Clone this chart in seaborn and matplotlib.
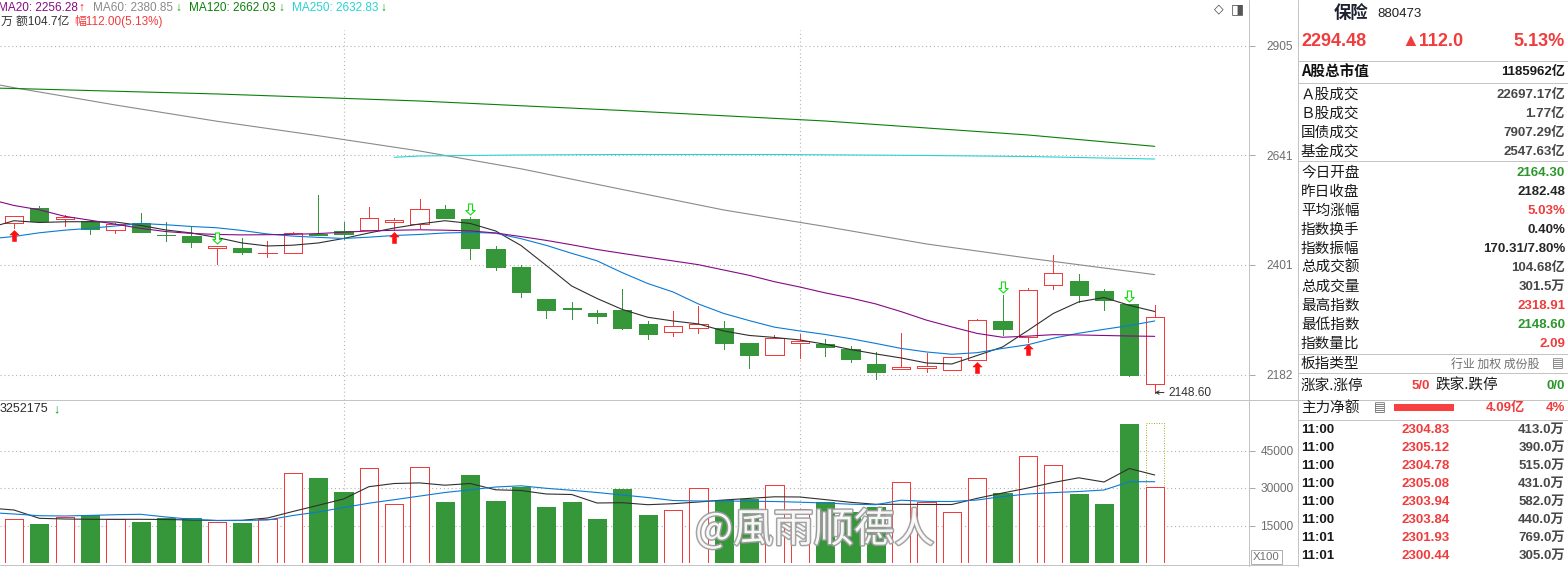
import numpy as np
import seaborn as sns
import matplotlib
matplotlib.use("Agg")
import matplotlib.pyplot as plt
import matplotlib.patheffects as pathEffects
from matplotlib.lines import Line2D
from matplotlib.patches import Rectangle
from matplotlib.path import Path

# ---------------- daily candles (index 0 = leftmost visible day) ----------------
openPrices = [
    2490.9, 2523.0, 2498.3, 2494.6, 2474.5, 2489.6, 2465.0, 2462.2, 2437.3, 2436.7,
    2425.4, 2425.4, 2466.5, 2473.0, 2474.5, 2493.1, 2487.4, 2520.8, 2498.9, 2434.6,
    2396.1, 2330.9, 2312.7, 2302.1, 2308.7, 2280.8, 2264.4, 2272.2, 2272.8, 2242.7,
    2219.4, 2242.7, 2241.4, 2231.7, 2202.7, 2192.6, 2195.6, 2190.7, 2209.8, 2286.7,
    2255.7, 2358.8, 2367.7, 2347.2, 2320.8, 2164.30,
]
highPrices = [
    2505.5, 2527.4, 2507.7, 2496.8, 2490.9, 2512.0, 2491.8, 2481.6, 2440.9, 2457.3,
    2451.6, 2471.5, 2551.7, 2491.8, 2524.5, 2500.5, 2542.8, 2529.6, 2503.9, 2440.9,
    2400.9, 2330.9, 2324.2, 2308.7, 2351.2, 2286.7, 2306.7, 2317.4, 2286.7, 2242.7,
    2259.1, 2261.0, 2251.2, 2236.9, 2225.2, 2263.0, 2223.3, 2216.2, 2290.7, 2339.0,
    2352.7, 2421.8, 2382.1, 2351.9, 2320.8, 2318.91,
]
lowPrices = [
    2480.1, 2495.2, 2484.4, 2466.5, 2469.3, 2470.2, 2452.2, 2439.4, 2402.9, 2424.6,
    2417.6, 2425.4, 2463.3, 2455.8, 2474.5, 2475.1, 2480.1, 2501.8, 2414.1, 2390.4,
    2335.5, 2293.3, 2291.3, 2283.3, 2271.4, 2251.8, 2257.7, 2263.6, 2232.3, 2195.0,
    2219.4, 2214.8, 2218.7, 2207.1, 2174.1, 2192.6, 2186.8, 2190.7, 2209.8, 2259.6,
    2245.9, 2351.9, 2324.2, 2308.7, 2180.5, 2148.60,
]
closePrices = [
    2505.5, 2495.2, 2502.6, 2477.9, 2487.4, 2470.2, 2463.8, 2450.1, 2440.9, 2428.8,
    2426.7, 2468.7, 2464.4, 2465.9, 2500.5, 2496.8, 2520.1, 2501.8, 2437.3, 2397.3,
    2345.7, 2309.3, 2311.5, 2297.3, 2273.4, 2261.6, 2276.2, 2281.4, 2243.9, 2220.6,
    2253.1, 2246.6, 2235.0, 2211.7, 2186.8, 2196.4, 2198.9, 2216.2, 2288.7, 2271.4,
    2348.6, 2383.6, 2339.6, 2328.3, 2182.48, 2294.48,
]
volumes = [
    17480, 15600, 18530, 19200, 17480, 16400, 17870, 17870, 16270, 16000,
    17480, 35870, 34000, 28400, 37870, 23470, 38270, 24400, 35200, 24800,
    30530, 22400, 24400, 17600, 29600, 19200, 21200, 29870, 25200, 25600,
    31070, 21470, 24530, 20530, 22400, 32270, 24530, 20270, 33870, 28000,
    42670, 39070, 27600, 23600, 55600, 30270,
]
volumeForecast = 55900

# ---------------- moving averages (index -1 is the half hidden day on the left) ----------------
maIndex = list(range(-1, 46))
ma5Values = [
    2479.4, 2495.2, 2491.3, 2492.9, 2493.1, 2492.4, 2484.9, 2475.1, 2468.7, 2459.0,
    2447.3, 2440.9, 2442.6, 2447.3, 2456.9, 2468.7, 2479.4, 2488.1, 2495.2, 2489.2,
    2473.0, 2442.0, 2399.8, 2357.4, 2331.9, 2309.7, 2294.1, 2286.7, 2280.8, 2266.9,
    2258.1, 2254.1, 2249.2, 2240.8, 2230.7, 2222.0, 2214.2, 2204.6, 2202.7, 2219.1,
    2235.6, 2267.9, 2301.7, 2324.9, 2333.9, 2318.0, 2305.7,
]
ma10Values = [
    2455.8, 2461.2, 2469.1, 2474.7, 2478.8, 2483.8, 2489.2, 2486.4, 2482.7, 2479.9,
    2474.1, 2466.5, 2462.0, 2459.3, 2456.9, 2459.7, 2463.3, 2465.5, 2468.7, 2470.0,
    2468.3, 2456.5, 2442.2, 2425.4, 2409.6, 2384.8, 2362.5, 2345.1, 2320.8, 2301.7,
    2287.5, 2274.4, 2266.9, 2260.0, 2251.8, 2242.4, 2232.7, 2225.8, 2221.4, 2224.5,
    2232.7, 2239.9, 2252.6, 2262.4, 2270.1, 2277.6, 2286.7,
]
ma20Values = [
    2542.8, 2528.5, 2519.0, 2504.8, 2496.3, 2487.7, 2478.6, 2471.7, 2467.8, 2465.5,
    2464.6, 2465.0, 2465.7, 2467.4, 2470.4, 2473.0, 2474.5, 2475.6, 2474.7, 2473.2,
    2468.7, 2461.0, 2452.8, 2443.5, 2433.5, 2425.2, 2417.2, 2409.4, 2401.5, 2390.4,
    2379.4, 2366.2, 2355.3, 2343.3, 2332.9, 2320.8, 2305.3, 2288.3, 2274.8, 2262.0,
    2254.5, 2256.7, 2259.6, 2259.0, 2258.0, 2257.0, 2256.3,
]
ma60Index = [-1, 0, 4, 8, 12, 16, 20, 24, 28, 32, 36, 40, 45]
ma60Values = [2813.0, 2801.5, 2759.6, 2720.9, 2686.8, 2651.3, 2610.5, 2563.9, 2518.6, 2482.7, 2445.2, 2415.3, 2380.85]
ma120Index = [-1, 0, 8, 16, 24, 32, 40, 45]
ma120Values = [2800.8, 2799.5, 2786.2, 2769.2, 2746.4, 2721.4, 2688.5, 2662.03]
ma250Index = [15, 16, 20, 24, 30, 36, 40, 45]
ma250Values = [2636.8, 2639.8, 2642.1, 2643.2, 2643.2, 2641.0, 2638.6, 2632.83]

volMa5Values = [
    22000, 21200, 17880, 17600, 17480, 17480, 17480, 17400, 17200, 17000,
    17080, 18000, 20600, 23080, 25600, 30520, 31800, 32040, 31120, 31800,
    29280, 29000, 27600, 27400, 24000, 24120, 23320, 23720, 24400, 25200,
    25840, 26480, 26400, 25360, 24280, 23480, 23480, 23400, 23400, 25880,
    28000, 30000, 32200, 34080, 32400, 37800, 35200,
]
volMa10Values = [
    20200, 19600, 18920, 18800, 19040, 19320, 19480, 18400, 17480, 17000,
    17000, 17200, 19000, 20400, 22200, 23920, 25320, 26760, 28200, 29280,
    30400, 30880, 29880, 29080, 28200, 27200, 26200, 25000, 24800, 24800,
    24680, 24600, 24320, 24000, 23520, 23320, 25120, 24640, 24600, 25200,
    26600, 27600, 28160, 28600, 29200, 32520, 32520,
]

buySignalIndex = [0, 15, 38, 40]
sellSignalIndex = [8, 18, 39, 44]
monthBreakIndex = [13, 31]
priceTicks = [2182, 2401, 2641, 2905]
volumeTicks = [15000, 30000, 45000]
lowestDayIndex = 45
lowestLabel = "2148.60"

maLegendTexts = ["MA20: 2256.28", "MA60: 2380.85", "MA120: 2662.03", "MA250: 2632.83"]
maLegendArrows = ["↑", "↓", "↓", "↓"]
volumeHeader = "3252175"

# ---------------- quote panel ----------------
stockName = "保险"
stockCode = "880473"
lastPrice = "2294.48"
priceChange = "▲112.0"
pctChange = "5.13%"
marketCapLabel = "A股总市值"
marketCapValue = "1185962亿"
marketRowLabels = ["Ａ股成交", "Ｂ股成交", "国债成交", "基金成交"]
marketRowValues = ["22697.17亿", "1.77亿", "7907.29亿", "2547.63亿"]
indexRowLabels = ["今日开盘", "昨日收盘", "平均涨幅", "指数换手", "指数振幅",
                  "总成交额", "总成交量", "最高指数", "最低指数", "指数量比"]
indexRowValues = ["2164.30", "2182.48", "5.03%", "0.40%", "170.31/7.80%",
                  "104.68亿", "301.5万", "2318.91", "2148.60", "2.09"]
indexRowTones = ["green", "dark", "red", "dark", "dark", "gray", "gray", "red", "green", "red"]
tickTimes = ["11:00", "11:00", "11:00", "11:00", "11:00", "11:00", "11:01", "11:01"]
tickPrices = ["2304.83", "2305.12", "2304.78", "2305.08", "2303.94", "2303.84", "2301.93", "2300.44"]
tickVolumes = ["413.0万", "390.0万", "515.0万", "431.0万", "582.0万", "440.0万", "769.0万", "305.0万"]

FIG_W, FIG_H, DPI = 1568, 567, 100
RED = "#f03c3c"
GREEN = "#36963a"
SIGNAL_RED = "#ff1010"
SIGNAL_GREEN = "#10e010"
TONES = {"green": "#2c962c", "dark": "#262626", "red": "#f03c3c", "gray": "#484848"}
LINE_GRAY = "#c4c4c4"
TEXT_FAMILY = ["Liberation Sans", "Noto Sans CJK SC", "DejaVu Sans"]
CJK_FAMILY = ["Noto Sans CJK SC", "DejaVu Sans"]
LW = 0.72          # one pixel at 100 dpi
BODY_W = 0.72


def fx(px) :
    return px / FIG_W


def fy(py) :
    return 1 - py / FIG_H


class QuoteChart :

    def __init__(self) :
        sns.set_theme(style = "white")
        plt.rcParams["font.family"] = TEXT_FAMILY
        plt.rcParams["axes.unicode_minus"] = False
        self.fig = plt.figure(figsize = (FIG_W / DPI, FIG_H / DPI), dpi = DPI, facecolor = "white")
        self.priceAx = self.fig.add_axes([0, fy(400), fx(1249), fy(30) - fy(400)])
        self.volAx = self.fig.add_axes([0, fy(563), fx(1249), fy(400) - fy(563)])
        self.opens = np.array(openPrices)
        self.highs = np.array(highPrices)
        self.lows = np.array(lowPrices)
        self.closes = np.array(closePrices)
        self.idx = np.arange(len(self.closes))
        self.isUp = self.closes >= self.opens

    def text(self, px, py, s, color, size, weight = "normal", ha = "left", family = None, **kw) :
        self.fig.text(fx(px), fy(py), s, color = color, fontsize = size, fontweight = weight,
                      ha = ha, va = "center", family = family or TEXT_FAMILY, **kw)

    def hline(self, py, x0, x1) :
        self.fig.add_artist(Line2D([fx(x0), fx(x1)], [fy(py), fy(py)], color = LINE_GRAY, lw = LW))

    def vline(self, px, y0, y1) :
        self.fig.add_artist(Line2D([fx(px), fx(px)], [fy(y0), fy(y1)], color = LINE_GRAY, lw = LW))

    def styleAxis(self, ax) :
        for spine in ax.spines.values() :
            spine.set_visible(False)
        ax.set_facecolor("none")
        ax.set_xlim(-0.552, 48.72)
        ax.yaxis.tick_right()
        ax.tick_params(axis = "x", bottom = False, labelbottom = False)
        ax.grid(False)
        ax.yaxis.grid(True, color = "#b4b4b4", linestyle = (0, (1, 2.5)), linewidth = 0.8)
        for i in monthBreakIndex :
            ax.axvline(i, color = "#b4b4b4", linestyle = (0, (1, 2.5)), linewidth = 0.8, zorder = 0)
        ax.set_xlabel("")
        ax.set_ylabel("")

    def drawPrice(self) :
        ax = self.priceAx
        ax.set_yscale("log")
        up, down = self.isUp, ~self.isUp
        wickColors = np.where(up, RED, GREEN)
        ax.vlines(self.idx, self.lows, self.highs, colors = wickColors, linewidth = LW, zorder = 2,
                  antialiased = False)
        ax.bar(self.idx[up], (self.closes - self.opens)[up], bottom = self.opens[up], width = BODY_W,
               facecolor = "white", edgecolor = RED, linewidth = LW, zorder = 3, antialiased = False)
        ax.bar(self.idx[down], (self.opens - self.closes)[down], bottom = self.closes[down], width = BODY_W,
               facecolor = GREEN, edgecolor = GREEN, linewidth = LW, zorder = 3, antialiased = False)

        lineSets = [
            (maIndex, ma5Values, "#303030"),
            (maIndex, ma10Values, "#0a7ad6"),
            (maIndex, ma20Values, "#850a85"),
            (ma60Index, ma60Values, "#8a8a8a"),
            (ma120Index, ma120Values, "#0a800a"),
            (ma250Index, ma250Values, "#2ad2d2"),
        ]
        for xs, ys, color in lineSets :
            sns.lineplot(x = xs, y = ys, ax = ax, color = color, linewidth = 0.8,
                         estimator = None, legend = False, zorder = 4)

        # signal arrows, drawn in pixel units below lows / above highs
        px = 72 / DPI
        buyPath = Path([(0, -2), (4.6, -6.5), (2, -6.5), (2, -13), (-2, -13), (-2, -6.5), (-4.6, -6.5), (0, -2)],
                       closed = True)
        sellPath = Path([(0, 2.5), (4.7, 7), (2, 7), (2, 13.5), (-2, 13.5), (-2, 7), (-4.7, 7), (0, 2.5)],
                        closed = True)
        ax.plot(buySignalIndex, self.lows[buySignalIndex], linestyle = "none", marker = buyPath,
                markersize = 2 * 13 * px, markerfacecolor = SIGNAL_RED, markeredgecolor = SIGNAL_RED,
                markeredgewidth = 0.4, zorder = 6)
        ax.plot(sellSignalIndex, self.highs[sellSignalIndex], linestyle = "none", marker = sellPath,
                markersize = 2 * 13.5 * px, markerfacecolor = "white", markeredgecolor = SIGNAL_GREEN,
                markeredgewidth = 0.8, zorder = 6)

        ax.annotate(lowestLabel, xy = (lowestDayIndex, self.lows[lowestDayIndex]), xytext = (10, 0),
                    textcoords = "offset points", ha = "left", va = "center", fontsize = 8.6,
                    color = "#333333", family = TEXT_FAMILY,
                    arrowprops = dict(arrowstyle = "->", color = "#333333", lw = LW,
                                      shrinkA = 1, shrinkB = 0, mutation_scale = 6))

        self.styleAxis(ax)
        ax.set_yticks(priceTicks, labels = [str(t) for t in priceTicks])
        ax.minorticks_off()
        ax.set_ylim(2134.7, 2945.7)
        ax.tick_params(axis = "y", which = "major", direction = "out", length = 4.3, width = LW,
                       color = "#a8a8a8", labelcolor = "#6e6e6e", labelsize = 8.6, pad = 8)

    def drawVolume(self) :
        ax = self.volAx
        vols = np.array(volumes)
        up, down = self.isUp, ~self.isUp
        ax.bar(self.idx[up], vols[up], width = BODY_W, facecolor = "white", edgecolor = RED,
               linewidth = LW, zorder = 3, antialiased = False)
        ax.bar(self.idx[down], vols[down], width = BODY_W, facecolor = GREEN, edgecolor = GREEN,
               linewidth = LW, zorder = 3, antialiased = False)
        ax.bar([self.idx[-1]], [volumeForecast], width = BODY_W, fill = False, edgecolor = "#b0b030",
               linestyle = (0, (1, 1.5)), linewidth = LW, zorder = 2)
        sns.lineplot(x = maIndex, y = volMa5Values, ax = ax, color = "#303030", linewidth = 0.8,
                     estimator = None, legend = False, zorder = 4)
        sns.lineplot(x = maIndex, y = volMa10Values, ax = ax, color = "#0a7ad6", linewidth = 0.8,
                     estimator = None, legend = False, zorder = 4)
        self.styleAxis(ax)
        ax.set_yticks(volumeTicks, labels = [str(t) for t in volumeTicks])
        ax.set_ylim(0, 65200)
        ax.tick_params(axis = "y", direction = "out", length = 4.3, width = LW, color = "#a8a8a8",
                       labelcolor = "#6e6e6e", labelsize = 8.6, pad = 4)

    def drawHeaders(self) :
        legendColors = ["#850a85", "#8a8a8a", "#0a800a", "#2ad2d2"]
        arrowColors = [SIGNAL_RED, "#10a010", "#10a010", "#10a010"]
        textX = [-2, 93, 189, 292]
        arrowX = [78, 175, 278, 380]
        for s, a, c, ac, x0, x1 in zip(maLegendTexts, maLegendArrows, legendColors, arrowColors, textX, arrowX) :
            self.text(x0, 8, s, c, 8.5)
            self.text(x1, 8, a, ac, 8.5)
        self.text(1, 22, "万 额104.7亿", "#333333", 8.5)
        self.text(74, 22, "幅112.00(5.13%)", RED, 8.5)
        self.text(0, 409, volumeHeader, "#2a2a2a", 9)
        self.text(53, 409, "↓", "#10a010", 9)
        self.text(1214, 9, "◇", "#444444", 9, family = ["DejaVu Sans"])
        self.text(1231, 9, "◨", "#555555", 10, family = ["DejaVu Sans"])
        self.text(1253, 557, "X100", "#707070", 8.2,
                  bbox = dict(boxstyle = "square,pad=0.2", facecolor = "white", edgecolor = "#b0b0b0", lw = LW))
        self.text(695, 530, "@風雨顺德人", "white", 29, family = CJK_FAMILY, alpha = 0.92,
                  path_effects = [pathEffects.withStroke(linewidth = 2.2, foreground = "#9c9c9c")], zorder = 10)

    def drawPanel(self) :
        # frame lines
        self.vline(1249, 0, FIG_H)
        self.vline(1298, 0, FIG_H)
        self.hline(400, 0, FIG_W)
        self.hline(565, 0, 1298)
        for py in [61, 83, 161, 354, 373, 420] :
            self.hline(py, 1298, FIG_W)

        self.text(1334, 13, stockName, "#1c2230", 12.5, weight = "bold", family = CJK_FAMILY)
        self.text(1377, 14, stockCode, "#222222", 9.5)
        self.text(1301, 42, lastPrice, RED, 13, weight = "bold")
        self.text(1401, 42, priceChange, RED, 13, weight = "bold", family = ["Liberation Sans", "DejaVu Sans"])
        self.text(1565, 42, pctChange, RED, 13, weight = "bold", ha = "right")

        self.text(1301, 72, marketCapLabel, "#111111", 10.5, weight = "bold", family = CJK_FAMILY)
        self.text(1565, 72, marketCapValue, "#1a1a1a", 9.5, weight = "bold", ha = "right")
        for k, (lab, val) in enumerate(zip(marketRowLabels, marketRowValues)) :
            self.text(1301, 95 + 19 * k, lab, "#1a1a1a", 10.5, family = CJK_FAMILY)
            self.text(1565, 95 + 19 * k, val, "#484848", 9.5, weight = "bold", ha = "right")
        for k, (lab, val, tone) in enumerate(zip(indexRowLabels, indexRowValues, indexRowTones)) :
            self.text(1301, 173 + 19 * k, lab, "#1a1a1a", 10.5, family = CJK_FAMILY)
            self.text(1565, 173 + 19 * k, val, TONES[tone], 9.5, weight = "bold", ha = "right")

        self.text(1301, 364, "板指类型", "#1a1a1a", 10.5, family = CJK_FAMILY)
        self.text(1451, 364, "行业 加权 成份股", "#707070", 8.6, family = CJK_FAMILY)
        self.text(1552, 364, "▤", "#707070", 9, family = ["DejaVu Sans"])
        self.text(1301, 386, "涨家.涨停", "#1a1a1a", 10.5, family = CJK_FAMILY)
        self.text(1412, 386, "5/0", RED, 9.5, weight = "bold")
        self.text(1436, 386, "跌家.跌停", "#1a1a1a", 10.5, family = CJK_FAMILY)
        self.text(1565, 386, "0/0", TONES["green"], 9.5, weight = "bold", ha = "right")

        self.text(1301, 408, "主力净额", "#1a1a1a", 10.5, family = CJK_FAMILY)
        self.text(1374, 408, "▤", "#606060", 9, family = ["DejaVu Sans"])
        self.fig.add_artist(Rectangle((fx(1394), fy(411)), fx(60), fy(404) - fy(411),
                                      facecolor = "#f84040", edgecolor = "none"))
        self.text(1486, 408, "4.09亿", RED, 9.5, weight = "bold")
        self.text(1565, 408, "4%", RED, 9.5, weight = "bold", ha = "right")

        for k, (t, p, v) in enumerate(zip(tickTimes, tickPrices, tickVolumes)) :
            self.text(1301, 430 + 18 * k, t, "#1a1a1a", 9.5, weight = "bold")
            self.text(1401, 430 + 18 * k, p, RED, 9.5, weight = "bold")
            self.text(1565, 430 + 18 * k, v, "#484848", 9.5, weight = "bold", ha = "right")

    def render(self, outPath) :
        self.drawPrice()
        self.drawVolume()
        self.drawHeaders()
        self.drawPanel()
        self.fig.savefig(outPath, dpi = DPI, facecolor = "white")


def main() :
    chart = QuoteChart()
    chart.render("out.png")


if __name__ == "__main__" :
    main()
